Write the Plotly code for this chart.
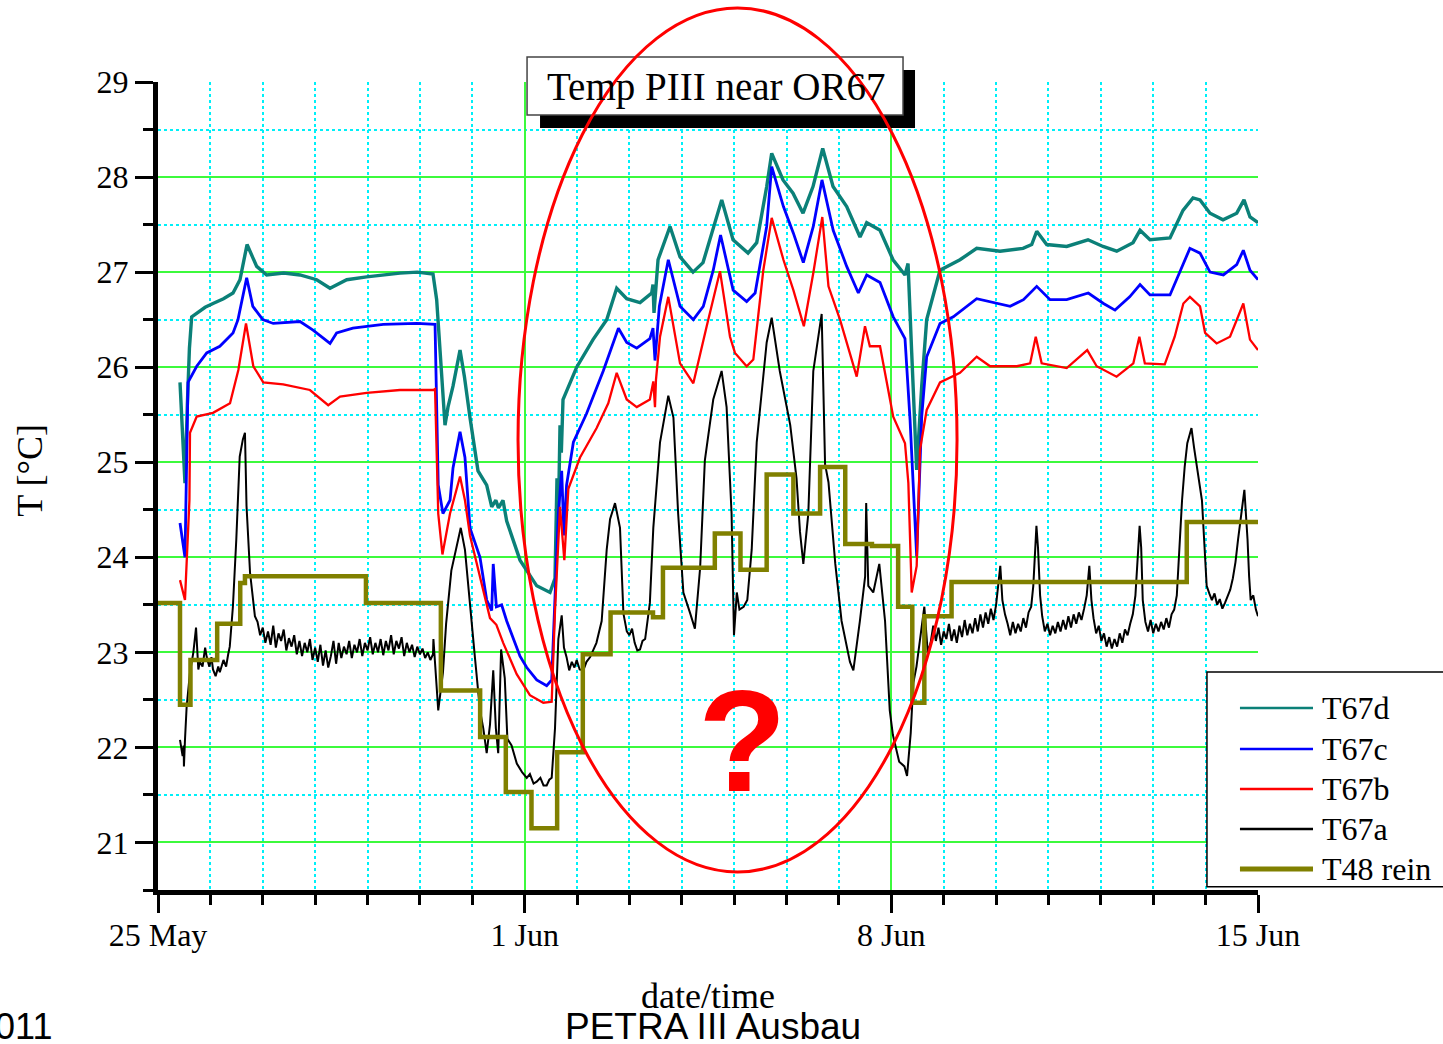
import pandas as pd
import plotly.graph_objects as go

START = pd.Timestamp("2011-05-25")
END = pd.Timestamp("2011-06-15")

# Each series: (days since 25 May 2011 00:00, temperature in degC)
t48_rein = [
    (0.00, 23.52), (0.42, 22.45), (0.62, 22.92), (1.13, 23.30), (1.57, 23.73),
    (1.66, 23.80), (3.97, 23.52), (5.40, 22.60), (6.15, 22.11), (6.64, 21.53),
    (7.13, 21.15), (7.62, 21.95), (8.11, 22.98), (8.64, 23.42), (9.45, 23.37),
    (9.64, 23.89), (10.63, 24.25), (11.12, 23.87), (11.62, 24.87), (12.13, 24.46),
    (12.64, 24.95), (13.12, 24.14), (13.63, 24.12), (14.13, 23.48), (14.40, 22.47),
    (14.63, 23.38), (15.15, 23.74), (19.64, 24.37), (21.00, 24.37),
]

t67d = [
    (0.42, 25.84), (0.47, 25.30), (0.515, 24.78), (0.56, 25.60), (0.60, 26.20),
    (0.643, 26.53), (0.739, 26.57), (0.90, 26.63), (1.05, 26.67), (1.25, 26.72),
    (1.432, 26.78), (1.565, 26.92), (1.70, 27.29), (1.884, 27.06), (2.075, 26.97),
    (2.40, 26.99), (2.711, 26.97), (3.03, 26.92), (3.284, 26.83), (3.603, 26.92),
    (3.984, 26.95), (4.30, 26.97), (4.62, 26.99), (4.95, 27.00), (5.25, 26.98),
    (5.32, 26.71), (5.384, 26.18), (5.479, 25.39), (5.536, 25.58), (5.632, 25.80),
    (5.766, 26.18), (5.85, 25.90), (5.956, 25.47), (6.109, 24.91), (6.275, 24.76),
    (6.371, 24.53), (6.45, 24.60), (6.50, 24.52), (6.586, 24.60), (6.657, 24.38),
    (6.911, 23.97), (7.23, 23.70), (7.484, 23.63), (7.579, 23.78), (7.617, 24.83),
    (7.64, 24.30), (7.675, 25.39), (7.70, 25.10), (7.732, 25.66), (7.993, 26.00),
    (8.305, 26.29), (8.566, 26.50), (8.757, 26.83), (8.948, 26.72), (9.202, 26.68),
    (9.425, 26.78), (9.45, 26.87), (9.469, 26.57), (9.546, 27.13), (9.775, 27.48),
    (9.966, 27.16), (10.214, 27.00), (10.405, 27.10), (10.596, 27.44), (10.762, 27.76),
    (10.978, 27.34), (11.264, 27.20), (11.43, 27.31), (11.621, 27.90), (11.716, 28.25),
    (11.932, 27.97), (12.123, 27.83), (12.314, 27.62), (12.505, 27.90), (12.69, 28.30),
    (12.887, 27.90), (13.148, 27.69), (13.402, 27.37), (13.53, 27.52), (13.784, 27.44),
    (14.032, 27.13), (14.261, 26.97), (14.319, 27.09), (14.389, 26.15), (14.484, 24.92),
    (14.58, 25.80), (14.675, 26.50), (14.929, 27.02), (15.177, 27.09), (15.311, 27.13),
    (15.63, 27.25), (16.075, 27.22), (16.514, 27.25), (16.68, 27.29), (16.776, 27.43),
    (16.966, 27.29), (17.348, 27.27), (17.755, 27.34), (18.041, 27.27), (18.303, 27.22),
    (18.614, 27.31), (18.748, 27.44), (18.938, 27.34), (19.32, 27.36), (19.568, 27.65),
    (19.759, 27.78), (19.893, 27.76), (20.084, 27.62), (20.332, 27.55), (20.594, 27.62),
    (20.733, 27.76), (20.847, 27.58), (21.00, 27.52),
]

t67c = [
    (0.42, 24.36), (0.515, 24.00), (0.573, 25.84), (0.739, 26.01), (0.93, 26.15),
    (1.18, 26.22), (1.432, 26.36), (1.527, 26.50), (1.693, 26.94), (1.81, 26.64),
    (2.00, 26.50), (2.20, 26.46), (2.711, 26.48), (2.96, 26.39), (3.284, 26.25),
    (3.41, 26.36), (3.72, 26.41), (4.30, 26.45), (4.94, 26.46), (5.289, 26.45),
    (5.35, 24.76), (5.44, 24.46), (5.575, 24.60), (5.632, 24.94), (5.766, 25.32),
    (5.86, 25.05), (5.956, 24.31), (6.147, 24.00), (6.275, 23.55), (6.371, 23.44),
    (6.40, 23.93), (6.46, 23.48), (6.56, 23.50), (6.657, 23.33), (6.911, 22.96),
    (7.04, 22.84), (7.23, 22.71), (7.42, 22.65), (7.516, 22.71), (7.579, 23.52),
    (7.643, 24.46), (7.707, 24.91), (7.75, 24.23), (7.80, 24.76), (7.93, 25.21),
    (8.18, 25.51), (8.50, 25.96), (8.79, 26.41), (8.948, 26.26), (9.14, 26.20),
    (9.39, 26.30), (9.45, 26.41), (9.488, 26.07), (9.571, 26.64), (9.742, 27.13),
    (9.966, 26.64), (10.22, 26.50), (10.41, 26.64), (10.60, 27.02), (10.74, 27.39),
    (10.98, 26.81), (11.238, 26.69), (11.40, 26.78), (11.62, 27.48), (11.716, 28.11),
    (11.94, 27.69), (12.13, 27.41), (12.32, 27.10), (12.51, 27.48), (12.676, 27.97),
    (12.89, 27.44), (13.148, 27.06), (13.37, 26.78), (13.53, 26.97), (13.784, 26.89),
    (14.036, 26.53), (14.261, 26.30), (14.357, 25.45), (14.43, 24.60), (14.484, 24.01),
    (14.58, 25.48), (14.675, 26.11), (14.929, 26.46), (15.183, 26.53), (15.63, 26.72),
    (15.886, 26.69), (16.268, 26.64), (16.523, 26.71), (16.776, 26.85), (17.03, 26.71),
    (17.348, 26.71), (17.76, 26.78), (18.05, 26.67), (18.27, 26.60), (18.55, 26.74),
    (18.748, 26.87), (18.938, 26.76), (19.32, 26.76), (19.575, 27.10), (19.70, 27.25),
    (19.893, 27.20), (20.084, 27.00), (20.339, 26.97), (20.594, 27.08), (20.72, 27.23),
    (20.847, 27.02), (21.00, 26.92),
]

t67b = [
    (0.42, 23.76), (0.515, 23.55), (0.60, 24.60), (0.611, 25.31), (0.739, 25.48),
    (1.05, 25.52), (1.375, 25.62), (1.534, 25.97), (1.68, 26.46), (1.82, 26.01),
    (2.01, 25.84), (2.39, 25.82), (2.90, 25.76), (3.25, 25.60), (3.475, 25.69),
    (3.984, 25.73), (4.62, 25.76), (5.256, 25.76), (5.289, 25.77), (5.35, 24.46),
    (5.43, 24.03), (5.575, 24.46), (5.766, 24.85), (5.86, 24.60), (5.956, 24.23),
    (6.147, 23.78), (6.338, 23.36), (6.46, 23.29), (6.59, 23.10), (6.848, 22.77),
    (7.10, 22.55), (7.356, 22.47), (7.516, 22.48), (7.579, 23.44), (7.675, 24.53),
    (7.757, 23.97), (7.834, 24.72), (8.057, 25.05), (8.374, 25.36), (8.596, 25.62),
    (8.757, 25.94), (8.948, 25.66), (9.14, 25.58), (9.39, 25.66), (9.456, 25.85),
    (9.488, 25.58), (9.507, 25.87), (9.584, 26.32), (9.742, 26.74), (9.966, 26.04),
    (10.22, 25.83), (10.475, 26.43), (10.729, 27.01), (10.92, 26.32), (11.015, 26.15),
    (11.238, 26.01), (11.365, 26.08), (11.556, 27.02), (11.716, 27.57), (11.94, 27.13),
    (12.13, 26.81), (12.33, 26.43), (12.51, 26.99), (12.682, 27.58), (12.80, 26.85),
    (13.02, 26.50), (13.339, 25.90), (13.497, 26.43), (13.59, 26.22), (13.784, 26.22),
    (14.036, 25.48), (14.261, 25.20), (14.325, 24.78), (14.389, 23.63), (14.484, 23.91),
    (14.547, 25.13), (14.675, 25.55), (14.929, 25.84), (15.311, 25.94), (15.63, 26.11),
    (15.886, 26.01), (16.396, 26.01), (16.65, 26.04), (16.757, 26.32), (16.87, 26.04),
    (17.348, 25.99), (17.74, 26.18), (17.92, 26.01), (18.30, 25.90), (18.62, 26.04),
    (18.735, 26.32), (18.84, 26.04), (19.22, 26.03), (19.41, 26.32), (19.575, 26.67),
    (19.70, 26.74), (19.893, 26.64), (19.99, 26.36), (20.21, 26.25), (20.466, 26.32),
    (20.72, 26.67), (20.847, 26.29), (21.00, 26.18),
]

t67a = [
    (0.42, 22.08), (0.47, 21.91), (0.49, 22.02), (0.495, 21.80), (0.515, 22.08),
    (0.547, 22.43), (0.611, 22.79), (0.675, 23.00), (0.726, 23.26), (0.77, 22.82),
    (0.80, 22.90), (0.85, 22.85), (0.90, 23.05), (0.93, 22.95), (0.98, 22.85),
    (1.02, 22.95), (1.05, 22.82), (1.10, 22.75), (1.15, 22.85), (1.18, 22.79),
    (1.25, 22.92), (1.30, 22.85), (1.34, 22.98), (1.37, 23.06), (1.43, 23.48),
    (1.494, 24.18), (1.56, 25.06), (1.62, 25.24), (1.66, 25.31), (1.69, 24.54),
    (1.757, 23.84), (1.85, 23.38),
    (1.90, 23.32), (1.95, 23.18), (2.00, 23.26), (2.05, 23.10), (2.10, 23.22),
    (2.15, 23.08), (2.20, 23.28), (2.25, 23.05), (2.30, 23.20), (2.35, 23.12),
    (2.40, 23.24), (2.45, 23.02), (2.50, 23.15), (2.55, 23.06), (2.60, 23.18),
    (2.65, 22.98), (2.70, 23.12), (2.75, 22.96), (2.80, 23.10), (2.85, 23.00),
    (2.90, 23.14), (2.95, 22.92), (3.00, 23.05), (3.05, 22.90), (3.10, 23.08),
    (3.15, 22.86), (3.20, 23.02), (3.25, 22.84), (3.30, 22.96), (3.35, 23.12),
    (3.40, 22.88), (3.45, 23.10), (3.50, 22.94), (3.55, 23.06), (3.60, 22.98),
    (3.65, 23.12), (3.70, 22.94), (3.75, 23.08), (3.80, 23.00), (3.85, 23.14),
    (3.90, 22.96), (3.95, 23.10), (4.00, 23.02), (4.05, 23.16), (4.10, 22.98),
    (4.15, 23.10), (4.20, 23.00), (4.25, 23.14), (4.30, 22.97), (4.35, 23.12),
    (4.40, 23.02), (4.45, 23.18), (4.50, 22.98), (4.55, 23.12), (4.60, 23.04),
    (4.65, 23.16), (4.70, 22.96), (4.75, 23.10), (4.80, 23.00), (4.85, 23.08),
    (4.90, 22.95), (4.95, 23.06), (5.00, 22.98), (5.05, 23.04), (5.10, 22.94),
    (5.15, 23.00), (5.20, 22.92), (5.25, 22.98), (5.258, 23.14), (5.32, 22.58),
    (5.35, 22.39), (5.44, 22.79), (5.50, 23.30), (5.60, 23.86), (5.72, 24.15),
    (5.78, 24.31), (5.86, 24.08), (5.956, 23.48), (6.05, 22.95), (6.147, 22.39),
    (6.21, 22.20), (6.275, 21.94), (6.338, 22.24), (6.40, 22.81), (6.45, 22.20),
    (6.495, 21.94), (6.55, 23.03), (6.62, 22.73), (6.67, 22.09), (6.75, 22.02),
    (6.85, 21.83), (6.95, 21.74), (7.04, 21.68), (7.10, 21.72), (7.17, 21.62),
    (7.23, 21.64), (7.30, 21.68), (7.36, 21.60), (7.42, 21.60), (7.47, 21.66),
    (7.516, 21.68), (7.579, 22.20), (7.643, 23.14), (7.707, 23.39), (7.75, 23.05),
    (7.80, 22.95), (7.85, 22.81), (7.90, 22.90), (7.95, 22.84), (7.993, 22.92),
    (8.05, 22.82), (8.12, 22.81), (8.18, 22.90), (8.25, 22.95), (8.30, 23.02),
    (8.37, 23.10), (8.47, 23.33), (8.566, 24.08), (8.63, 24.40), (8.725, 24.57),
    (8.82, 24.31), (8.885, 23.41), (8.95, 23.22), (9.00, 23.18), (9.05, 23.25),
    (9.10, 23.10), (9.15, 23.02), (9.202, 23.03), (9.25, 23.12), (9.30, 23.14),
    (9.39, 23.52), (9.456, 24.31), (9.584, 25.21), (9.742, 25.70), (9.84, 25.47),
    (9.93, 24.46), (10.03, 23.63), (10.10, 23.50), (10.16, 23.41), (10.25, 23.25),
    (10.35, 23.89), (10.44, 25.02), (10.60, 25.66), (10.76, 25.96), (10.855, 25.58),
    (10.95, 24.46), (10.996, 23.18), (11.05, 23.63), (11.10, 23.45), (11.18, 23.48),
    (11.25, 23.55), (11.334, 24.08), (11.43, 25.21), (11.62, 26.26), (11.716, 26.52),
    (11.87, 25.96), (12.07, 25.39), (12.19, 24.83), (12.256, 24.27), (12.32, 23.93),
    (12.415, 24.46), (12.51, 25.96), (12.67, 26.56), (12.735, 24.98), (12.80, 24.79),
    (12.93, 23.93), (13.05, 23.33), (13.21, 22.90), (13.275, 22.81), (13.40, 23.33),
    (13.50, 23.80), (13.52, 24.57), (13.56, 23.70), (13.655, 23.63), (13.77, 23.93),
    (13.88, 23.33), (13.97, 22.39), (14.03, 22.13), (14.15, 21.85), (14.25, 21.80),
    (14.30, 21.70), (14.37, 22.15), (14.42, 22.68), (14.48, 22.85), (14.63, 23.48),
    (14.695, 23.00),
    (14.75, 23.10), (14.80, 23.28), (14.85, 23.12), (14.90, 23.26), (14.95, 23.08),
    (15.00, 23.22), (15.05, 23.14), (15.10, 23.30), (15.15, 23.12), (15.20, 23.24),
    (15.25, 23.10), (15.30, 23.28), (15.35, 23.16), (15.40, 23.34), (15.45, 23.18),
    (15.50, 23.30), (15.55, 23.20), (15.60, 23.36), (15.65, 23.22), (15.70, 23.40),
    (15.75, 23.26), (15.80, 23.42), (15.85, 23.30), (15.90, 23.46), (15.95, 23.34),
    (16.00, 23.50), (16.05, 23.75), (16.08, 23.91), (16.12, 23.55), (16.17, 23.40),
    (16.22, 23.30), (16.27, 23.18), (16.32, 23.32), (16.37, 23.20), (16.42, 23.30),
    (16.47, 23.22), (16.52, 23.36), (16.57, 23.26), (16.62, 23.42), (16.67, 23.48),
    (16.71, 23.70), (16.75, 24.20), (16.77, 24.33), (16.80, 24.10), (16.84, 23.60),
    (16.88, 23.38), (16.93, 23.22), (16.98, 23.30), (17.03, 23.18), (17.08, 23.28),
    (17.13, 23.20), (17.18, 23.32), (17.23, 23.22), (17.28, 23.34), (17.33, 23.24),
    (17.38, 23.38), (17.43, 23.26), (17.48, 23.40), (17.53, 23.30), (17.58, 23.42),
    (17.63, 23.34), (17.68, 23.46), (17.73, 23.60), (17.78, 23.91), (17.82, 23.55),
    (17.86, 23.36), (17.91, 23.20), (17.96, 23.28), (18.01, 23.12), (18.06, 23.20),
    (18.11, 23.06), (18.16, 23.16), (18.21, 23.04), (18.26, 23.14), (18.31, 23.06),
    (18.36, 23.20), (18.41, 23.10), (18.46, 23.24), (18.51, 23.18), (18.56, 23.30),
    (18.61, 23.40), (18.66, 23.60), (18.70, 23.95), (18.74, 24.33), (18.77, 24.10),
    (18.80, 23.55), (18.85, 23.32), (18.90, 23.22), (18.95, 23.34), (19.00, 23.20),
    (19.05, 23.30), (19.10, 23.22), (19.15, 23.32), (19.20, 23.24), (19.25, 23.36),
    (19.30, 23.26), (19.35, 23.40), (19.40, 23.45), (19.45, 23.60), (19.50, 24.10),
    (19.55, 24.60), (19.60, 24.95), (19.65, 25.20), (19.70, 25.30), (19.73, 25.36),
    (19.78, 25.15), (19.83, 24.96), (19.88, 24.75), (19.93, 24.60), (19.97, 24.20),
    (20.02, 23.70), (20.07, 23.62), (20.12, 23.55), (20.17, 23.62), (20.22, 23.50),
    (20.27, 23.56), (20.32, 23.46), (20.37, 23.52), (20.42, 23.60), (20.47, 23.66),
    (20.52, 23.78), (20.57, 23.95), (20.62, 24.19), (20.67, 24.40), (20.71, 24.54),
    (20.74, 24.71), (20.77, 24.45), (20.80, 24.19), (20.83, 23.80), (20.86, 23.55),
    (20.91, 23.60), (20.96, 23.45), (21.00, 23.38),
]

series_names = ["T67d", "T67c", "T67b", "T67a", "T48 rein"]
series_colors = ["#0b8078", "#0000ff", "#ff0000", "#000000", "#808000"]
series_widths = [3.4, 2.8, 2.3, 2.0, 4.5]
legend_widths = [2.5, 2.5, 2.5, 2.5, 5.0]

SERIF = "Liberation Serif"
SANS = "Liberation Sans"


def to_xy(points):
    days, vals = zip(*points)
    return START + pd.to_timedelta(list(days), unit="D"), list(vals)


fig = go.Figure()
for name, pts, color, width in zip(series_names, [t67d, t67c, t67b, t67a, t48_rein],
                                   series_colors, series_widths):
    x, y = to_xy(pts)
    fig.add_trace(go.Scatter(
        x=x, y=y, name=name, mode="lines",
        line=dict(color=color, width=width, shape="hv" if name == "T48 rein" else "linear"),
        showlegend=False,
    ))

DAY_MS = 86400000
GREEN = "#3cfa3c"
CYAN = "#00f0f8"
fig.update_xaxes(
    type="date", range=[START, END],
    tickmode="linear", tick0="2011-05-25", dtick=7 * DAY_MS, tickformat="%-d %b",
    ticks="outside", ticklen=18, tickwidth=3, tickcolor="black",
    ticklabelstandoff=-5,
    showline=True, linewidth=5, linecolor="black",
    showgrid=True, gridcolor=GREEN, gridwidth=2, zeroline=False,
    tickfont=dict(family=SERIF, size=32, color="black"),
    minor=dict(tick0="2011-05-25", dtick=DAY_MS, ticks="outside", ticklen=10,
               tickwidth=3, tickcolor="black", showgrid=True,
               gridcolor=CYAN, griddash="dot", gridwidth=2),
)
fig.update_yaxes(
    range=[20.5, 29], tickmode="linear", tick0=21, dtick=1,
    ticks="outside", ticklen=18, tickwidth=3, tickcolor="black",
    showline=True, linewidth=5, linecolor="black",
    showgrid=True, gridcolor=GREEN, gridwidth=2, zeroline=False,
    tickfont=dict(family=SERIF, size=32, color="black"),
    minor=dict(tick0=21, dtick=0.5, ticks="outside", ticklen=10, tickwidth=3,
               tickcolor="black", showgrid=True, gridcolor=CYAN,
               griddash="dot", gridwidth=2),
)

shapes = [
    # title box with drop shadow
    dict(type="rect", xref="paper", yref="paper", x0=0.3473, x1=0.6882, y0=0.943, y1=1.0149,
         fillcolor="black", line=dict(width=0), layer="above"),
    dict(type="rect", xref="paper", yref="paper", x0=0.3355, x1=0.6773, y0=0.9592, y1=1.0309,
         fillcolor="white", line=dict(color="#444444", width=1.5), layer="above"),
    # legend frame
    dict(type="rect", xref="paper", yref="paper", x0=0.9536, x1=1.25, y0=0.004, y1=0.2698,
         fillcolor="white", line=dict(color="black", width=1.5), layer="above"),
]
annotations = [
    dict(text="Temp PIII near OR67", xref="paper", yref="paper", x=0.507, y=0.9935,
         xanchor="center", yanchor="middle", showarrow=False,
         font=dict(family=SERIF, size=39, color="black")),
]

legend_rows = [0.2252, 0.1745, 0.125, 0.0755, 0.026]
for name, color, lw, ry in zip(series_names, series_colors, legend_widths, legend_rows):
    shapes.append(dict(type="line", xref="paper", yref="paper", x0=0.9836, x1=1.05, y0=ry, y1=ry,
                       line=dict(color=color, width=lw), layer="above"))
    annotations.append(dict(text=name, xref="paper", yref="paper", x=1.0565, y=ry,
                            xanchor="left", yanchor="middle", showarrow=False,
                            font=dict(family=SERIF, size=32, color="black")))

# highlighted period
shapes.append(dict(type="circle", xref="paper", yref="paper", x0=0.3273, x1=0.7264,
                   y0=0.0223, y1=1.0916, line=dict(color="#ff0000", width=3), layer="above"))

annotations += [
    dict(text="<b>?</b>", xref="paper", yref="paper", x=0.5318, y=0.185, xanchor="center",
         yanchor="middle", showarrow=False, font=dict(family=SANS, size=145, color="#ff0000")),
    dict(text="T [°C]", xref="paper", yref="paper", x=-0.1164, y=0.52, textangle=-90,
         xanchor="center", yanchor="middle", showarrow=False,
         font=dict(family=SERIF, size=36, color="black")),
    dict(text="date/time", xref="paper", yref="paper", x=0.5, y=-0.131, xanchor="center",
         yanchor="middle", showarrow=False, font=dict(family=SERIF, size=36, color="black")),
    dict(text="PETRA III Ausbau", xref="paper", yref="paper", x=0.5045, y=-0.169,
         xanchor="center", yanchor="middle", showarrow=False,
         font=dict(family=SANS, size=37, color="black")),
    dict(text="2011", xref="paper", yref="paper", x=-0.095, y=-0.169, xanchor="right",
         yanchor="middle", showarrow=False, font=dict(family=SANS, size=36, color="black")),
]

fig.update_layout(
    width=1443, height=1044,
    margin=dict(l=158, r=185, t=82, b=154),
    paper_bgcolor="white", plot_bgcolor="white",
    showlegend=False,
    font=dict(family=SERIF, color="black"),
    shapes=shapes, annotations=annotations,
)

fig.write_html("out.html")
